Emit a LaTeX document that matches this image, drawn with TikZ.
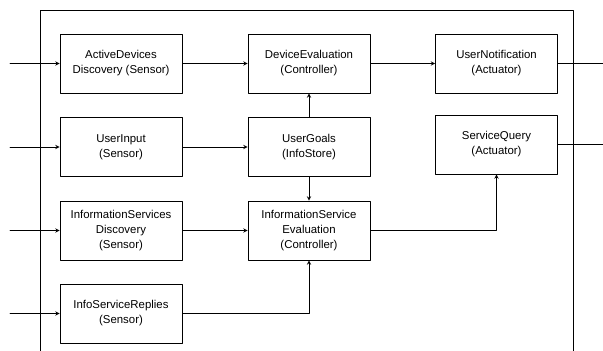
\documentclass[tikz,border=0pt]{standalone}
\usepackage{fontspec}
\setmainfont{Liberation Sans}
\begin{document}
\begin{tikzpicture}[>=stealth,line join=round, line cap=round, x=1pt, y=-1pt,
	font=\fontsize{11.4}{15}\selectfont,
	box/.style={draw, line width=0.9pt, minimum width=122pt, minimum height=59pt, align=center, inner sep=2pt},
	link/.style={line width=0.9pt}]
	\useasboundingbox (0,0) rectangle (603,351);
	% cadre
	\draw[link] (40,351) -- (40,10) -- (573,10) -- (573,351);
	% capteurs
	\node[box] (ad) at (121,63.5) {ActiveDevices\\Discovery (Sensor)};
	\node[box] (ui) at (121,147) {UserInput\\(Sensor)};
	\node[box] (isd) at (121,230.5) {InformationServices\\Discovery\\(Sensor)};
	\node[box] (isr) at (121,313.5) {InfoServiceReplies\\(Sensor)};
	% controleurs
	\node[box] (de) at (309,63.5) {DeviceEvaluation\\(Controller)};
	\node[box] (ug) at (309,147) {UserGoals\\(InfoStore)};
	\node[box] (ise) at (309,230.5) {InformationService\\Evaluation\\(Controller)};
	% actionneurs
	\node[box] (un) at (496.5,63.5) {UserNotification\\(Actuator)};
	\node[box] (sq) at (496.5,144.5) {ServiceQuery\\(Actuator)};
	% extremites libres
	\coordinate (in1) at (10,63.5);
	\coordinate (in2) at (10,147);
	\coordinate (in3) at (10,230.5);
	\coordinate (in4) at (10,313.5);
	\coordinate (out1) at (603,63.5);
	\coordinate (out2) at (603,144.5);
	\draw[link,->] (in1) -- (ad);
	\draw[link,->] (in2) -- (ui);
	\draw[link,->] (in3) -- (isd);
	\draw[link,->] (in4) -- (isr);
	\draw[link,->] (ad) -- (de);
	\draw[link,->] (ui) -- (ug);
	\draw[link,->] (isd) -- (ise);
	\draw[link,->] (de) -- (un);
	\draw[link,->] (ug) -- (de);
	\draw[link,->] (ug) -- (ise);
	\draw[link,->] (isr.east) -| (ise.south);
	\draw[link,->] (ise.east) -| (sq.south);
	\draw[link] (un) -- (out1);
	\draw[link] (sq) -- (out2);
\end{tikzpicture}
\end{document}
